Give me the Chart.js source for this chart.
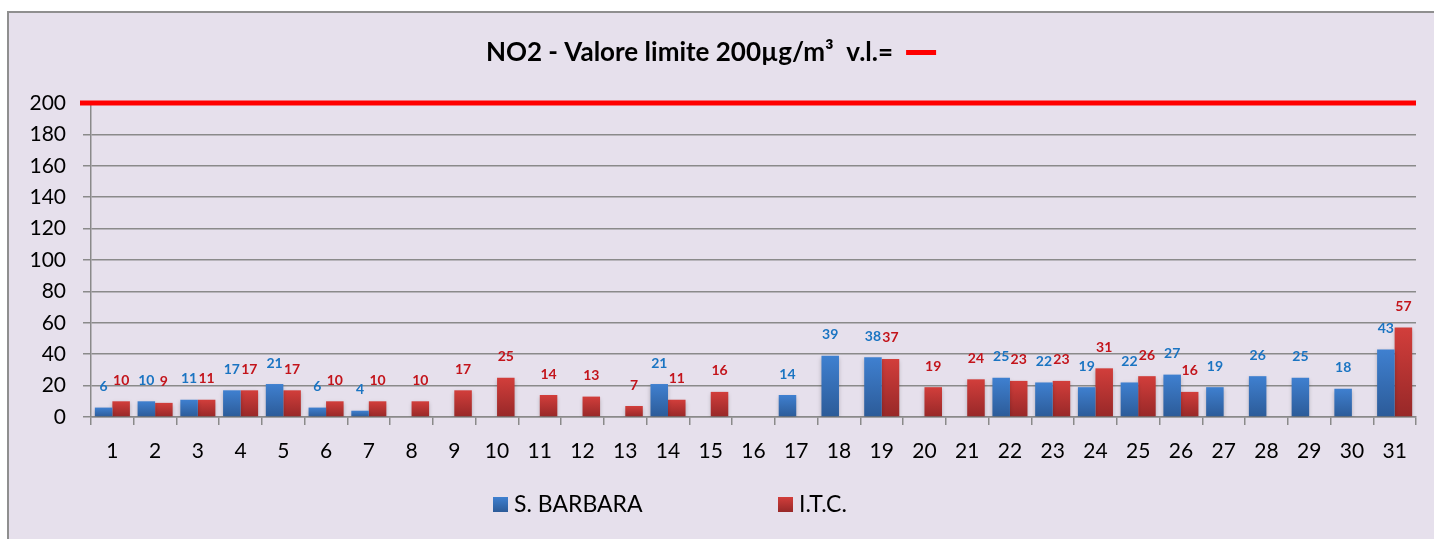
<!DOCTYPE html>
<html>
<head>
<meta charset="utf-8">
<script src="https://cdn.jsdelivr.net/npm/chart.js@4.4.1/dist/chart.umd.min.js"></script>
<style>
  html, body { margin: 0; padding: 0; background: #e6e0ec; overflow: hidden; }
  #no2 { position: absolute; left: 0; top: 0; display: block; }
</style>
</head>
<body>
<canvas id="no2" width="1434" height="539"></canvas>
<script>
const days = ['1','2','3','4','5','6','7','8','9','10','11','12','13','14','15','16',
  '17','18','19','20','21','22','23','24','25','26','27','28','29','30','31'];
const santaBarbara = [6, 10, 11, 17, 21, 6, 4, null, null, null, null, null, null, 21, null, null,
  14, 39, 38, null, null, 25, 22, 19, 22, 27, 19, 26, 25, 18, 43];
const itc = [10, 9, 11, 17, 17, 10, 10, 10, 17, 25, 14, 13, 7, 11, 16, null,
  null, null, 37, 19, 24, 23, 23, 31, 26, 16, null, null, null, null, 57];
const yTicks = [0, 20, 40, 60, 80, 100, 120, 140, 160, 180, 200];
const limitValue = 200;
const titleText = 'NO2 - Valore limite 200µg/m³  v.l.=';

const FONT = 'Lato, "Open Sans", sans-serif';
const GRID = '#8a8a8a';
Chart.defaults.font.family = FONT;
Chart.defaults.color = '#000';

function barFill(top, bottom) {
  return (c) => {
    const chart = c.chart;
    if (!chart.chartArea || !c.parsed) return top;
    const y = chart.scales.y;
    const y0 = y.getPixelForValue(c.parsed.y), y1 = y.getPixelForValue(0);
    if (!(y1 > y0)) return top;
    const g = chart.ctx.createLinearGradient(0, y0, 0, y1);
    g.addColorStop(0, top);
    g.addColorStop(1, bottom);
    return g;
  };
}

const series = [
  {label: 'S. BARBARA', data: santaBarbara, top: '#3f80d0', bottom: '#2c5b98', text: '#1a74c2'},
  {label: 'I.T.C.', data: itc, top: '#d23e3b', bottom: '#972828', text: '#c3141b'}
];

// frame, title with the red sample line, the 200 limit line, value labels, legend
const extras = {
  id: 'extras',
  beforeDraw(chart) {
    const ctx = chart.ctx;
    const w = chart.width, h = chart.height;
    ctx.save();
    ctx.fillStyle = '#ffffff';
    ctx.fillRect(0, 0, w, h);
    ctx.fillStyle = '#e6e0ec';
    ctx.fillRect(8, 12, w - 8, h - 12);
    ctx.strokeStyle = '#8f8f8f';
    ctx.lineWidth = 2;
    ctx.beginPath();
    ctx.moveTo(8, h);
    ctx.lineTo(8, 12);
    ctx.lineTo(w, 12);
    ctx.stroke();
    ctx.restore();
  },
  beforeDatasetsDraw(chart) {
    const ctx = chart.ctx;
    ctx.save();
    ctx.shadowColor = 'rgba(0,0,0,0.22)';
    ctx.shadowBlur = 4;
    ctx.shadowOffsetY = 2;
  },
  afterDatasetsDraw(chart) {
    const ctx = chart.ctx;
    ctx.restore();
    const area = chart.chartArea;
    const yLim = chart.scales.y.getPixelForValue(limitValue);

    ctx.save();
    ctx.strokeStyle = '#ff0000';
    ctx.lineWidth = 5;
    ctx.beginPath();
    ctx.moveTo(80, yLim);
    ctx.lineTo(area.right, yLim);
    ctx.stroke();

    ctx.font = 'bold 14px ' + FONT;
    ctx.textAlign = 'center';
    ctx.textBaseline = 'middle';
    chart.data.datasets.forEach((ds, i) => {
      const meta = chart.getDatasetMeta(i);
      ctx.fillStyle = series[i].text;
      meta.data.forEach((bar, j) => {
        const v = ds.data[j];
        if (v === null || v === undefined) return;
        ctx.fillText(String(v), bar.x, bar.y - 21);
      });
    });

    // title
    ctx.font = 'bold 26px ' + FONT;
    ctx.textAlign = 'left';
    ctx.fillStyle = '#000';
    const tw = ctx.measureText(titleText).width;
    const total = tw + 13 + 30;
    const tx = 711 - total / 2;
    ctx.fillText(titleText, tx, 53);
    ctx.fillStyle = '#ff0000';
    ctx.fillRect(tx + tw + 13, 50, 30, 5);

    // legend
    ctx.font = '23px ' + FONT;
    ctx.textBaseline = 'middle';
    series.forEach((s, i) => {
      const x = 493 + i * 285;
      const g = ctx.createLinearGradient(0, 497, 0, 512);
      g.addColorStop(0, s.top);
      g.addColorStop(1, s.bottom);
      ctx.fillStyle = g;
      ctx.fillRect(x, 497, 15, 15);
      ctx.fillStyle = '#000';
      ctx.fillText(s.label, x + 21, 505);
    });
    ctx.restore();
  }
};

new Chart(document.getElementById('no2'), {
  type: 'bar',
  data: {
    labels: days,
    datasets: series.map(s => ({
      label: s.label,
      data: s.data,
      backgroundColor: barFill(s.top, s.bottom),
      borderWidth: 0,
      categoryPercentage: 0.82,
      barPercentage: 1.0
    }))
  },
  options: {
    responsive: false,
    animation: false,
    devicePixelRatio: 1,
    layout: {padding: {top: 103, right: 18, left: 0, bottom: 72}},
    plugins: {
      legend: {display: false},
      title: {display: false},
      tooltip: {enabled: false}
    },
    scales: {
      x: {
        afterFit: (s) => { s.height = 50; },
        grid: {display: true, drawOnChartArea: false, drawTicks: true, tickLength: 8, color: GRID, lineWidth: 1.5, offset: true},
        border: {display: true, color: GRID, width: 1.5},
        ticks: {font: {size: 21}, color: '#000', padding: 14, maxRotation: 0, autoSkip: false}
      },
      y: {
        min: 0,
        max: 200,
        afterFit: (s) => { s.width = 91; },
        afterBuildTicks: (s) => { s.ticks = yTicks.map(v => ({value: v})); },
        grid: {color: GRID, lineWidth: 1.5, tickLength: 8},
        border: {display: true, color: GRID, width: 1.5},
        ticks: {font: {size: 21}, color: '#000', padding: 17}
      }
    }
  },
  plugins: [extras]
});
</script>
</body>
</html>
